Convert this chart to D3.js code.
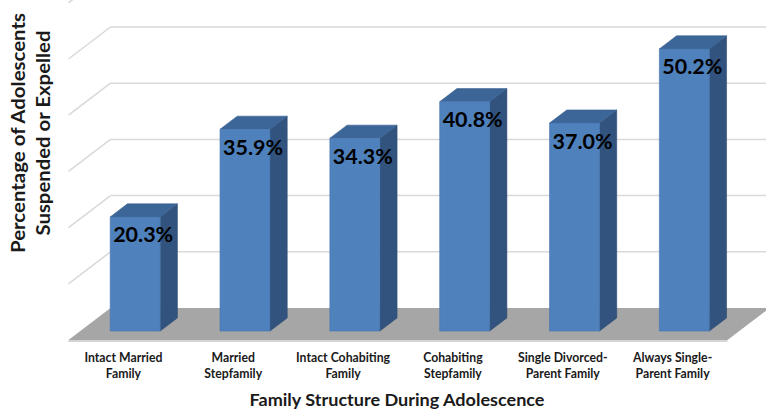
<!DOCTYPE html>
<html>
<head>
<meta charset="utf-8">
<script src="https://cdnjs.cloudflare.com/ajax/libs/d3/7.8.5/d3.min.js"></script>
<style>
  html, body { margin: 0; padding: 0; background: #fff; }
  svg { display: block; font-family: Lato, "Open Sans", sans-serif; font-weight: bold; }
</style>
</head>
<body>
<div class="container"></div>
<script>
  const categories = [
    'Intact Married Family',
    'Married Stepfamily',
    'Intact Cohabiting Family',
    'Cohabiting Stepfamily',
    'Single Divorced-Parent Family',
    'Always Single-Parent Family'
  ];
  const labelLines = [
    ['Intact Married', 'Family'],
    ['Married', 'Stepfamily'],
    ['Intact Cohabiting', 'Family'],
    ['Cohabiting', 'Stepfamily'],
    ['Single Divorced-', 'Parent Family'],
    ['Always Single-', 'Parent Family']
  ];
  const values = [20.3, 35.9, 34.3, 40.8, 37.0, 50.2];
  const gridValues = [10, 20, 30, 40, 50, 60];

  const width = 766;
  const height = 409;

  // oblique "3d": depth goes up and to the right
  const depthX = 42;
  const depthY = -32;
  const barZ0 = 0.28;
  const barZ1 = 0.69;

  const svg = d3.select('.container')
    .append('svg')
    .attr('width', width)
    .attr('height', height);

  const xScale = d3.scaleBand()
    .domain(categories)
    .range([68.5, 727.5])
    .paddingInner(0.545)
    .paddingOuter(0.2725);

  const yScale = d3.scaleLinear()
    .domain([0, 60])
    .range([340, 340 - 6 * 56.2]);

  // project a point (x on front plane, value, depth 0..1)
  const pt = (x, v, z) => [x + z * depthX, yScale(v) + z * depthY];
  const poly = pts => pts.map(p => p.join(',')).join(' ');

  const x0 = 68.5;
  const x1 = 727.5;

  // back wall gridlines + left wall diagonals
  const grid = svg.append('g').attr('class', 'grid');
  grid.selectAll('line.back')
    .data(gridValues)
    .enter()
    .append('line')
    .attr('class', 'back')
    .attr('x1', d => pt(x0, d, 1)[0])
    .attr('y1', d => pt(x0, d, 1)[1])
    .attr('x2', d => pt(x1, d, 1)[0] + 5)
    .attr('y2', d => pt(x1, d, 1)[1])
    .attr('stroke', '#d9d9d9')
    .attr('stroke-width', 1.5);

  grid.selectAll('line.side')
    .data(gridValues)
    .enter()
    .append('line')
    .attr('class', 'side')
    .attr('x1', d => pt(x0, d, 1)[0])
    .attr('y1', d => pt(x0, d, 1)[1])
    .attr('x2', d => pt(x0, d, 0)[0])
    .attr('y2', d => pt(x0, d, 0)[1])
    .attr('stroke', '#d9d9d9')
    .attr('stroke-width', 1.5);

  // floor with a thin edge
  svg.append('polygon')
    .attr('points', poly([
      pt(x0, 0, 0), pt(x1, 0, 0), [pt(x1, 0, 0)[0], pt(x1, 0, 0)[1] + 2],
      [pt(x0, 0, 0)[0], pt(x0, 0, 0)[1] + 2]
    ]))
    .attr('fill', '#d4d4d4');

  svg.append('polygon')
    .attr('points', poly([pt(x0, 0, 0), pt(x1, 0, 0), pt(x1, 0, 1), pt(x0, 0, 1)]))
    .attr('fill', '#a6a6a6');

  // bars
  const bars = svg.selectAll('g.bar')
    .data(values.map((v, i) => ({ cat: categories[i], value: v })))
    .enter()
    .append('g')
    .attr('class', 'bar');

  const left = d => xScale(d.cat);
  const right = d => xScale(d.cat) + xScale.bandwidth();

  bars.append('polygon')
    .attr('points', d => poly([
      pt(right(d), 0, barZ0), pt(right(d), 0, barZ1),
      pt(right(d), d.value, barZ1), pt(right(d), d.value, barZ0)
    ]))
    .attr('fill', '#31537e')
    .attr('stroke', '#2d4c74')
    .attr('stroke-width', 0.6);

  bars.append('polygon')
    .attr('points', d => poly([
      pt(left(d), d.value, barZ0), pt(right(d), d.value, barZ0),
      pt(right(d), d.value, barZ1), pt(left(d), d.value, barZ1)
    ]))
    .attr('fill', '#3d6698')
    .attr('stroke', '#37608f')
    .attr('stroke-width', 0.6);

  bars.append('polygon')
    .attr('points', d => poly([
      pt(left(d), 0, barZ0), pt(right(d), 0, barZ0),
      pt(right(d), d.value, barZ0), pt(left(d), d.value, barZ0)
    ]))
    .attr('fill', '#4f81bd')
    .attr('stroke', '#4676af')
    .attr('stroke-width', 0.6);

  // Lato is wider than the original font: keep the glyph height and squeeze
  // the text so a reference string spans the measured width
  function squeezeRatio(sample, size, target) {
    const t = svg.append('text').style('font-size', size + 'px').text(sample);
    const w = t.node().getComputedTextLength();
    t.remove();
    return target / w;
  }

  function squeeze(sel, k) {
    sel.each(function() {
      const w = this.getComputedTextLength();
      d3.select(this)
        .attr('textLength', w * k)
        .attr('lengthAdjust', 'spacingAndGlyphs');
    });
  }

  // value labels
  const valueSize = 21.5;
  const valueK = squeezeRatio('20.3%', valueSize, 60);

  bars.append('text')
    .attr('x', d => pt(left(d) + xScale.bandwidth() / 2, d.value, barZ0)[0] + 8)
    .attr('y', d => pt(0, d.value, barZ0)[1] + 25.5)
    .attr('text-anchor', 'middle')
    .style('font-size', valueSize + 'px')
    .attr('fill', '#000')
    .text(d => d.value.toFixed(1) + '%')
    .call(squeeze, valueK);

  // category labels, one text per line
  const catSize = 12.6;
  const catK = squeezeRatio('Intact Cohabiting', catSize, 94);

  const catData = [];
  categories.forEach((c, i) => {
    labelLines[i].forEach((line, j) => catData.push({ cat: c, line, j }));
  });

  svg.selectAll('text.cat')
    .data(catData)
    .enter()
    .append('text')
    .attr('class', 'cat')
    .attr('x', d => xScale(d.cat) + xScale.bandwidth() / 2)
    .attr('y', d => 361.5 + d.j * 16.5)
    .attr('text-anchor', 'middle')
    .style('font-size', catSize + 'px')
    .attr('fill', '#1a1a1a')
    .text(d => d.line)
    .call(squeeze, catK);

  // axis titles
  const xTitleSize = 17.2;
  svg.append('text')
    .attr('x', 397)
    .attr('y', 406)
    .attr('text-anchor', 'middle')
    .style('font-size', xTitleSize + 'px')
    .attr('fill', '#1a1a1a')
    .text('Family Structure During Adolescence')
    .call(squeeze, squeezeRatio('Family Structure During Adolescence', xTitleSize, 295));

  const yTitleSize = 19;
  const yK = squeezeRatio('Percentage of Adolescents', yTitleSize, 240);

  svg.append('text')
    .attr('transform', 'translate(25,133) rotate(-90)')
    .attr('text-anchor', 'middle')
    .style('font-size', yTitleSize + 'px')
    .attr('fill', '#1a1a1a')
    .text('Percentage of Adolescents')
    .call(squeeze, yK);

  svg.append('text')
    .attr('transform', 'translate(50,133) rotate(-90)')
    .attr('text-anchor', 'middle')
    .style('font-size', yTitleSize + 'px')
    .attr('fill', '#1a1a1a')
    .text('Suspended or Expelled')
    .call(squeeze, squeezeRatio('Suspended or Expelled', yTitleSize, 205));
</script>
</body>
</html>
